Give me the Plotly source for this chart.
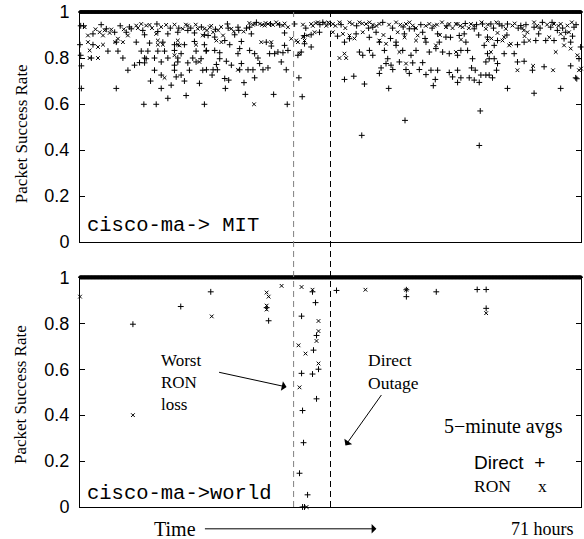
import numpy as np
import plotly.graph_objects as go

# ---------------- data (hours, packet success rate) ----------------
TOTAL_HOURS = 71
sample_hours = np.arange(0, TOTAL_HOURS + 1e-9, 5 / 60)  # 5-minute samples
band_rate = 1.0  # rate of all samples not listed below

top_direct = [
    (0.10, 0.94), (1.84, 0.905), (3.73, 0.927), (4.91, 0.912), (6.56, 0.912), (7.26, 0.927),
    (9.15, 0.901), (11.03, 0.915), (12.45, 0.905), (13.86, 0.912), (15.28, 0.92), (16.22, 0.909),
    (17.63, 0.901), (0.0, 0.858), (1.84, 0.858), (5.14, 0.869), (7.97, 0.869), (9.86, 0.865),
    (11.74, 0.869), (13.39, 0.858), (14.80, 0.858), (16.22, 0.872), (17.63, 0.858), (3.96, 0.83),
    (5.38, 0.83), (8.68, 0.83), (9.62, 0.83), (11.03, 0.83), (11.98, 0.83), (13.39, 0.833),
    (14.33, 0.819), (16.45, 0.83), (17.87, 0.83), (0.10, 0.812), (1.61, 0.80), (6.08, 0.80),
    (9.15, 0.80), (9.38, 0.797), (10.56, 0.80), (12.45, 0.80), (13.86, 0.80), (15.98, 0.80),
    (17.16, 0.797), (0.19, 0.766), (8.44, 0.78), (9.15, 0.779), (11.51, 0.783), (13.86, 0.783),
    (13.39, 0.769), (15.28, 0.779), (16.45, 0.783), (6.79, 0.747), (10.56, 0.747), (13.39, 0.747),
    (15.51, 0.747), (17.40, 0.747), (7.73, 0.769), (11.51, 0.726), (13.63, 0.718), (14.33, 0.726),
    (14.80, 0.70), (10.0, 0.70), (16.93, 0.69), (12.92, 0.682), (0.19, 0.668), (5.14, 0.668),
    (11.51, 0.668), (12.45, 0.625), (15.04, 0.637), (9.05, 0.599), (10.80, 0.599), (17.63, 0.599),
    (20.89, 0.948), (22.39, 0.934), (24.04, 0.934), (24.28, 0.905), (28.99, 0.909), (30.41, 0.948),
    (31.82, 0.898), (32.76, 0.901), (33.94, 0.912), (34.41, 0.955), (18.15, 0.898), (19.09, 0.891),
    (20.51, 0.876), (21.92, 0.901), (22.87, 0.872), (21.22, 0.858), (22.63, 0.841), (24.04, 0.833),
    (26.40, 0.869), (27.11, 0.852), (28.99, 0.855), (31.82, 0.862), (32.76, 0.848), (17.92, 0.833),
    (19.09, 0.833), (19.80, 0.823), (22.39, 0.819), (24.75, 0.819), (26.87, 0.819), (27.58, 0.819),
    (28.05, 0.826), (28.76, 0.823), (29.47, 0.833), (31.35, 0.826), (30.88, 0.812), (19.80, 0.797),
    (20.74, 0.786), (19.33, 0.772), (21.45, 0.769), (22.87, 0.776), (25.46, 0.776), (23.81, 0.749),
    (24.51, 0.749), (22.63, 0.749), (18.86, 0.749), (19.47, 0.749), (17.92, 0.749), (25.93, 0.749),
    (26.64, 0.757), (29.23, 0.749), (28.52, 0.783), (25.22, 0.80), (18.72, 0.726), (20.51, 0.711),
    (21.07, 0.704), (24.75, 0.714), (23.24, 0.693), (31.02, 0.714), (20.60, 0.668), (23.43, 0.642),
    (27.44, 0.642), (31.49, 0.632), (29.37, 0.599),
    (37.48, 0.707), (38.80, 0.721), (40.31, 0.687), (43.75, 0.668), (46.06, 0.529), (39.93, 0.464),
    (42.43, 0.733), (42.67, 0.757), (43.37, 0.776), (44.08, 0.769), (44.32, 0.75), (45.26, 0.783),
    (46.20, 0.75), (46.67, 0.733), (47.15, 0.779), (48.09, 0.75), (48.56, 0.78), (49.03, 0.728),
    (49.74, 0.747), (50.68, 0.747), (50.35, 0.707), (50.07, 0.68), (52.33, 0.737), (53.51, 0.747),
    (53.51, 0.694), (52.80, 0.718), (41.02, 0.833), (39.60, 0.826), (40.07, 0.812), (41.49, 0.812),
    (43.14, 0.833), (43.61, 0.797), (44.79, 0.869), (45.73, 0.833), (46.91, 0.812), (47.62, 0.833),
    (49.50, 0.826), (50.44, 0.841), (51.39, 0.826), (52.33, 0.819), (49.03, 0.869), (50.92, 0.869),
    (51.86, 0.891), (48.56, 0.912), (50.68, 0.905), (45.97, 0.905), (46.67, 0.927), (47.38, 0.927),
    (41.49, 0.934), (41.96, 0.912), (39.13, 0.905), (38.19, 0.884), (37.48, 0.869), (42.43, 0.869),
    (44.79, 0.855),
    (53.98, 0.714), (55.16, 0.714), (55.87, 0.704), (56.58, 0.694), (56.81, 0.726), (57.52, 0.726),
    (57.99, 0.726), (58.46, 0.714), (59.03, 0.747), (60.58, 0.668), (64.35, 0.647), (68.12, 0.668),
    (70.25, 0.714), (55.49, 0.757), (56.01, 0.747), (56.72, 0.57), (56.58, 0.42), (57.75, 0.819),
    (57.52, 0.783), (57.99, 0.797), (58.70, 0.797), (59.17, 0.776), (60.11, 0.819), (61.53, 0.819),
    (62.0, 0.783), (62.94, 0.786), (64.12, 0.747), (65.77, 0.762), (69.54, 0.766), (70.95, 0.848),
    (70.72, 0.797), (53.98, 0.833), (54.93, 0.833), (53.51, 0.812), (55.63, 0.797), (57.28, 0.855),
    (58.70, 0.855), (59.17, 0.876), (62.0, 0.858), (62.94, 0.869), (64.59, 0.876), (66.0, 0.876),
    (67.18, 0.876), (68.60, 0.884), (69.54, 0.869), (57.75, 0.891), (53.75, 0.898), (54.45, 0.905),
    (54.69, 0.869), (55.87, 0.927), (57.05, 0.948), (58.23, 0.948), (59.40, 0.948), (60.58, 0.948),
    (62.47, 0.941), (64.35, 0.934), (65.53, 0.955), (66.71, 0.934), (67.65, 0.92), (68.83, 0.912),
    (70.01, 0.934), (70.4, 0.71),
    (0.5, 0.94), (3.0, 0.945), (5.7, 0.94), (7.0, 0.935), (8.9, 0.92), (10.9, 0.948),
    (12.8, 0.93), (14.0, 0.93), (15.7, 0.93), (17.2, 0.935), (19.2, 0.925), (21.0, 0.93),
    (22.5, 0.92), (23.6, 0.93), (25.0, 0.955), (27.0, 0.948), (28.3, 0.944), (32.0, 0.93),
    (34.0, 0.945), (37.0, 0.945), (39.2, 0.94), (40.9, 0.93), (42.9, 0.955), (44.3, 0.93),
    (45.8, 0.935), (48.3, 0.945), (49.9, 0.93), (52.0, 0.94), (54.6, 0.95), (56.2, 0.945),
    (58.6, 0.93), (59.8, 0.94), (62.1, 0.93), (63.2, 0.945), (65.2, 0.93), (66.9, 0.955),
    (68.4, 0.93), (70.3, 0.945), (36.5, 0.895), (41.0, 0.89), (44.0, 0.885), (48.9, 0.885),
    (52.5, 0.89), (56.5, 0.9), (60.5, 0.9), (65.0, 0.905), (69.8, 0.895),
]

top_ron = [
    (0.66, 0.934), (1.13, 0.898), (2.78, 0.912), (3.26, 0.898), (4.20, 0.909), (5.38, 0.884),
    (6.08, 0.869), (7.97, 0.941), (9.38, 0.941), (12.21, 0.944), (10.80, 0.905), (13.86, 0.876),
    (14.10, 0.855), (16.69, 0.927), (17.40, 0.898), (17.63, 0.927), (1.13, 0.869), (2.55, 0.848),
    (3.26, 0.858), (5.0, 0.869), (11.03, 0.876), (11.74, 0.858), (13.86, 0.858), (1.37, 0.833),
    (16.45, 0.858), (16.93, 0.783), (13.39, 0.812), (11.98, 0.714), (1.37, 0.80), (2.55, 0.80),
    (11.03, 0.858), (15.28, 0.941), (6.79, 0.898), (8.68, 0.948), (9.86, 0.944), (4.43, 0.924),
    (14.57, 0.927),
    (18.39, 0.934), (18.86, 0.912), (19.57, 0.92), (20.27, 0.898), (19.33, 0.876), (20.04, 0.869),
    (21.45, 0.927), (25.46, 0.948), (26.64, 0.948), (28.05, 0.948), (29.47, 0.934), (25.69, 0.869),
    (27.11, 0.869), (29.94, 0.884), (30.88, 0.869), (31.82, 0.876), (32.29, 0.898), (33.24, 0.912),
    (33.71, 0.955), (35.36, 0.948), (31.11, 0.819), (22.39, 0.749), (24.66, 0.599), (24.75, 0.948),
    (26.17, 0.941), (27.34, 0.944), (28.76, 0.941), (32.76, 0.948), (34.65, 0.952), (31.58, 0.891),
    (30.64, 0.876),
    (35.83, 0.948), (36.77, 0.955), (38.19, 0.955), (39.60, 0.955), (40.54, 0.948), (41.02, 0.955),
    (42.43, 0.948), (44.79, 0.955), (46.20, 0.948), (47.15, 0.941), (49.50, 0.948), (50.21, 0.941),
    (52.33, 0.948), (53.27, 0.948), (35.83, 0.912), (37.25, 0.905), (38.19, 0.898), (37.48, 0.819),
    (36.77, 0.80), (37.72, 0.80), (42.43, 0.876), (45.02, 0.912), (47.85, 0.898), (47.62, 0.876),
    (45.26, 0.826), (50.44, 0.855), (51.86, 0.934), (46.20, 0.776), (40.07, 0.912), (43.37, 0.862),
    (53.51, 0.948), (54.22, 0.934), (55.40, 0.948), (55.87, 0.941), (57.52, 0.927), (59.17, 0.909),
    (60.35, 0.927), (61.29, 0.941), (62.70, 0.93), (63.41, 0.912), (63.65, 0.876), (64.35, 0.955),
    (67.18, 0.948), (68.12, 0.948), (69.07, 0.941), (69.30, 0.912), (68.12, 0.905), (68.60, 0.855),
    (67.42, 0.826), (69.54, 0.841), (70.48, 0.812), (70.72, 0.747), (67.04, 0.747), (64.21, 0.766),
    (61.99, 0.747), (58.23, 0.826), (57.75, 0.876), (59.88, 0.876), (61.05, 0.862), (60.11, 0.891),
    (60.82, 0.855), (53.28, 0.826), (71.0, 0.754),
    (2.2, 0.925), (3.5, 0.92), (6.2, 0.925), (8.2, 0.93), (10.2, 0.93), (11.5, 0.935),
    (13.4, 0.945), (15.0, 0.945), (16.4, 0.945), (18.0, 0.92), (18.6, 0.94), (20.0, 0.935),
    (21.8, 0.915), (23.2, 0.915), (24.0, 0.952), (24.5, 0.945), (25.8, 0.944), (26.3, 0.952),
    (27.8, 0.955), (29.0, 0.95), (31.6, 0.945), (33.0, 0.94), (33.4, 0.952), (34.9, 0.94),
    (35.2, 0.955), (36.2, 0.94), (37.6, 0.93), (38.6, 0.948), (40.0, 0.95), (41.5, 0.945),
    (42.0, 0.94), (43.8, 0.945), (45.4, 0.945), (46.7, 0.955), (47.6, 0.93), (49.0, 0.94),
    (50.6, 0.945), (51.3, 0.955), (52.8, 0.93), (53.9, 0.94), (55.1, 0.93), (56.9, 0.955),
    (57.8, 0.945), (59.0, 0.955), (61.6, 0.95), (62.9, 0.92), (64.8, 0.94), (66.2, 0.945),
    (67.8, 0.94), (69.7, 0.955), (38.9, 0.885), (43.0, 0.9), (46.0, 0.89), (51.0, 0.9),
    (54.0, 0.88), (58.3, 0.885), (63.0, 0.895), (66.5, 0.89),
]

bottom_direct = [
    (7.50, 0.796), (14.28, 0.873), (18.53, 0.937), (26.73, 0.811), (26.45, 0.868), (31.40, 0.831),
    (33.38, 0.89), (33.52, 0.747), (33.09, 0.683), (33.80, 0.60), (31.40, 0.582), (32.95, 0.579),
    (33.52, 0.471), (31.54, 0.42), (31.68, 0.28), (31.11, 0.147), (32.25, 0.053), (31.54, 0.0),
    (31.82, 0.0), (32.95, 0.937), (36.35, 0.943), (46.25, 0.946), (46.25, 0.916), (50.49, 0.937),
    (56.29, 0.947), (57.56, 0.947), (57.56, 0.865),
]

bottom_ron = [
    (0.0, 0.916), (7.50, 0.40), (18.67, 0.83), (26.45, 0.934), (26.73, 0.916), (26.45, 0.877),
    (26.45, 0.86), (28.57, 0.963), (31.40, 0.958), (32.95, 0.946), (33.80, 0.81), (33.80, 0.766),
    (33.52, 0.723), (30.97, 0.704), (31.96, 0.668), (33.80, 0.625), (31.11, 0.521), (32.10, 0.0),
    (40.45, 0.946), (46.25, 0.946), (57.56, 0.844),
]

y_ticks = [0, 0.2, 0.4, 0.6, 0.8, 1]
y_tick_text = ["0", "0.2", "0.4", "0.6", "0.8", "1"]
outage_hours = [30.27, 35.5]  # dashed markers: worst RON loss / direct outage

# ---------------- layout helpers (pixel -> paper) ----------------
L, R, T, B = 80, 582, 8, 507
W, H = 584, 539


def PX(x):
    return (x - L) / (R - L)


def PY(y):
    return (B - y) / (B - T)


SANS = "Liberation Sans, Arial, sans-serif"
SERIF = "Liberation Serif, Times New Roman, serif"
MONO = "Liberation Mono, Courier New, monospace"

fig = go.Figure()

mk_plus = dict(symbol="cross-thin", size=4.2, color="black", line=dict(width=1, color="black"))
mk_x = dict(symbol="x-thin", size=3.7, color="black", line=dict(width=1, color="black"))
mk_band = dict(symbol="cross-thin", size=2.6, color="black", line=dict(width=1.5, color="black"))

for xa, ya, d, r in [("x", "y", top_direct, top_ron), ("x2", "y2", bottom_direct, bottom_ron)]:
    fig.add_trace(go.Scatter(x=sample_hours, y=[band_rate] * len(sample_hours), mode="markers",
                             marker=mk_band, xaxis=xa, yaxis=ya, cliponaxis=False,
                             showlegend=False, hoverinfo="skip"))
    fig.add_trace(go.Scatter(x=[p[0] for p in d], y=[p[1] for p in d], mode="markers",
                             marker=mk_plus, xaxis=xa, yaxis=ya, cliponaxis=False, showlegend=False))
    fig.add_trace(go.Scatter(x=[p[0] for p in r], y=[p[1] for p in r], mode="markers",
                             marker=mk_x, xaxis=xa, yaxis=ya, cliponaxis=False, showlegend=False))

axis_common = dict(showline=True, linecolor="black", linewidth=1, mirror=True, showgrid=False,
                   zeroline=False)
xcommon = dict(axis_common, range=[0, TOTAL_HOURS], showticklabels=False, ticks="")
ycommon = dict(axis_common, range=[0, 1], tickvals=y_ticks, ticktext=y_tick_text, ticks="inside",
               ticklen=5, tickcolor="black", tickwidth=1,
               tickfont=dict(family=SANS, size=18, color="black"), ticklabelstandoff=6)
ycommon["mirror"] = "ticks"

top_dom = [PY(240), 1]
bot_dom = [0, PY(275.5)]

fig.update_layout(
    width=W, height=H,
    margin=dict(l=L, r=W - R, t=T, b=H - B),
    paper_bgcolor="white", plot_bgcolor="white",
    xaxis=dict(xcommon, domain=[0, 1], anchor="y"),
    yaxis=dict(ycommon, domain=top_dom, anchor="x"),
    xaxis2=dict(xcommon, domain=[0, 1], anchor="y2"),
    yaxis2=dict(ycommon, domain=bot_dom, anchor="x2"),
)

# dashed vertical lines spanning both panels
for h, col in zip(outage_hours, ["#808080", "black"]):
    fig.add_shape(type="line", xref="x", yref="paper", x0=h, x1=h, y0=0, y1=1,
                  line=dict(color=col, width=1, dash="6px,4px"))

ann = []


def text(x, y, s, font, size, anchor="left", **kw):
    ann.append(dict(x=PX(x), y=PY(y), xref="paper", yref="paper", text=s, showarrow=False,
                    xanchor=anchor, yanchor="middle", align="left",
                    font=dict(family=font, size=size, color="black"), **kw))


def arrow(x0, y0, x1, y1):
    ann.append(dict(x=PX(x1), y=PY(y1), xref="paper", yref="paper", text="", showarrow=True,
                    ax=x0 - x1, ay=y0 - y1, arrowhead=1, arrowsize=1.6, arrowwidth=1,
                    arrowcolor="black"))


# axis titles
for yc in [131, 394]:
    ann.append(dict(x=PX(21), y=PY(yc), xref="paper", yref="paper", text="Packet Success Rate",
                    showarrow=False, textangle=-90, xanchor="center", yanchor="middle",
                    font=dict(family=SERIF, size=17, color="black")))

text(85, 223, "cisco-ma-> MIT", MONO, 20.5)
text(85, 493, "cisco-ma->world", MONO, 20.5)
text(159, 381, "Worst<br>RON<br>loss", SERIF, 17)
arrow(218, 371, 287, 386)
text(367, 370, "Direct<br>Outage", SERIF, 17.5)
arrow(383, 393, 346, 445)
text(443, 426, "5\u2212minute avgs", SERIF, 20)
text(473, 462, "Direct  +", SANS, 19)
text(473, 486, "RON", SERIF, 17.5)
text(537, 486, "x", SERIF, 17.5)
text(152, 529, "Time", SERIF, 20)
arrow(204, 529, 377, 529)
text(510, 529, "71 hours", SERIF, 18)

fig.update_layout(annotations=ann)
fig.write_html("out.html", config={"displayModeBar": False},
               post_script="document.body.style.margin='0';")
